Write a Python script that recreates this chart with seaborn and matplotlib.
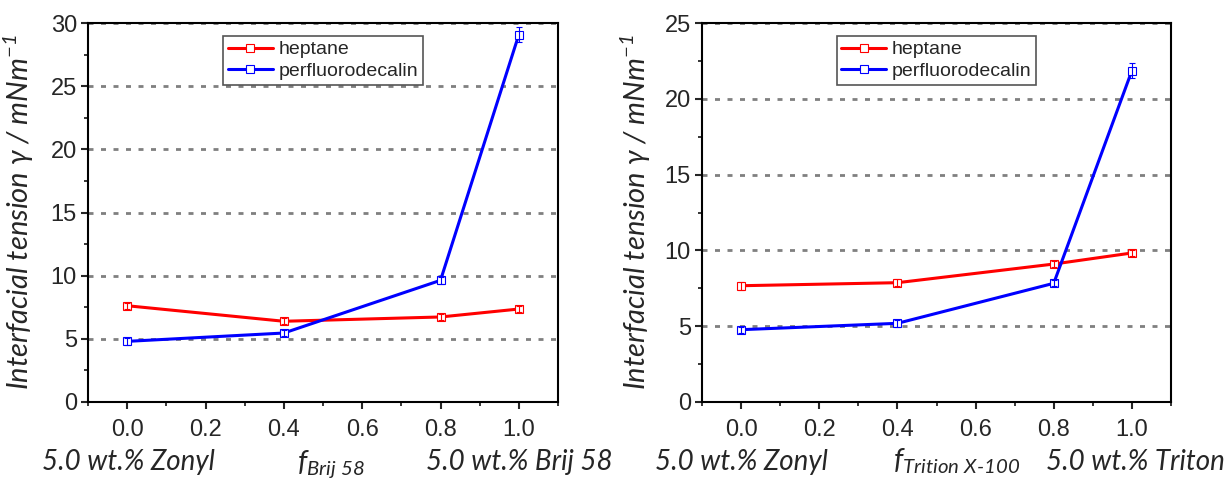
import pandas as pd
import matplotlib
matplotlib.use("Agg")
import matplotlib.pyplot as plt
from matplotlib.ticker import MultipleLocator, FormatStrFormatter
import seaborn as sns

# mole fraction of the second surfactant
frac = [0.0, 0.4, 0.8, 1.0]

# Zonyl / Brij 58
brij_heptane = [7.62, 6.39, 6.73, 7.36]
brij_heptane_err = [0.25, 0.25, 0.25, 0.25]
brij_pfd = [4.80, 5.46, 9.63, 29.08]
brij_pfd_err = [0.25, 0.25, 0.3, 0.6]

# Zonyl / Triton X-100
triton_heptane = [7.67, 7.87, 9.10, 9.83]
triton_heptane_err = [0.25, 0.25, 0.2, 0.2]
triton_pfd = [4.77, 5.19, 7.83, 21.86]
triton_pfd_err = [0.2, 0.25, 0.2, 0.5]

series_names = ["heptane", "perfluorodecalin"]
colors = {"heptane": "#ff0000", "perfluorodecalin": "#0000ff"}

sns.set_style("ticks")
plt.rcParams["font.family"] = ["Liberation Sans", "DejaVu Sans"]
plt.rcParams["mathtext.fontset"] = "custom"
plt.rcParams["mathtext.rm"] = "Lato:italic"
plt.rcParams["mathtext.it"] = "Lato:italic"

fig = plt.figure(figsize=(12.24, 4.79), dpi=100)
W, H = 1224, 479


def make_df(hep, hep_err, pfd, pfd_err):
    return pd.DataFrame({
        "f": frac * 2,
        "gamma": hep + pfd,
        "err": hep_err + pfd_err,
        "solvent": ["heptane"] * len(frac) + ["perfluorodecalin"] * len(frac),
    })


def draw_panel(left_px, width_px, df, ymax, f_label, right_text, offs):
    ax = fig.add_axes([left_px / W, 77 / H, width_px / W, 379 / H])
    for name in series_names:
        d = df[df.solvent == name]
        c = colors[name]
        sns.lineplot(data=d, x="f", y="gamma", ax=ax, color=c, lw=2.2,
                     marker="s", markersize=5.5, markerfacecolor="white",
                     markeredgecolor=c, markeredgewidth=0.8, label=name,
                     zorder=3)
        ax.errorbar(d.f, d.gamma, yerr=d.err, fmt="none", ecolor=c,
                    elinewidth=0.8, capsize=2.5, capthick=0.8, zorder=4)
    ax.set_xlim(-0.1, 1.1)
    ax.set_ylim(0, ymax)
    ax.xaxis.set_major_locator(MultipleLocator(0.2))
    ax.xaxis.set_minor_locator(MultipleLocator(0.1))
    ax.yaxis.set_major_locator(MultipleLocator(5))
    ax.yaxis.set_minor_locator(MultipleLocator(2.5))
    ax.xaxis.set_major_formatter(FormatStrFormatter("%.1f"))
    ax.tick_params(which="major", direction="out", length=5, width=1.5,
                   labelsize=17)
    ax.tick_params(axis="y", which="major", pad=3)
    ax.tick_params(axis="x", which="major", pad=7)
    ax.tick_params(which="minor", direction="out", length=3, width=1.3)
    ax.yaxis.grid(True, linestyle=(0, (1.8, 2.7)), color="#808080", lw=2)
    ax.set_axisbelow(True)
    for s in ax.spines.values():
        s.set_linewidth(1.5)
        s.set_color("black")
    ax.set_xlabel("")
    ax.set_ylabel("Interfacial tension γ / mNm$^{-1}$", fontsize=21,
                  family=["Lato", "DejaVu Sans"], style="italic")
    ax.yaxis.set_label_coords((offs[3] - left_px) / width_px, 0.5)
    leg = ax.legend(loc="upper center", bbox_to_anchor=(0.5, 0.966),
                    fontsize=14, frameon=True, fancybox=False,
                    edgecolor="#555555", framealpha=1, borderpad=0.25,
                    labelspacing=0.2, handlelength=2.3, handletextpad=0.3,
                    borderaxespad=0)
    leg.get_frame().set_linewidth(1.2)
    y_base = 1 - 470 / H
    fig.text((left_px + offs[0]) / W, y_base, "5.0 wt.% Zonyl", fontsize=20,
             family="Lato", style="italic", va="baseline")
    fig.text((left_px + offs[1]) / W, y_base, f_label, fontsize=21,
             va="baseline")
    fig.text((left_px + offs[2]) / W, y_base, right_text, fontsize=20,
             family="Lato", style="italic", va="baseline")
    return ax


df1 = make_df(brij_heptane, brij_heptane_err, brij_pfd, brij_pfd_err)
df2 = make_df(triton_heptane, triton_heptane_err, triton_pfd, triton_pfd_err)

draw_panel(88, 470, df1, 30, r"$f_{Brij\ 58}$", "5.0 wt.% Brij 58",
           (-46, 209, 338, 36))
draw_panel(702, 469, df2, 25, r"$f_{Trition\ X\text{-}100}$",
           "5.0 wt.% Triton", (-47, 191, 344, 653))

fig.savefig("out.png", dpi=100)
